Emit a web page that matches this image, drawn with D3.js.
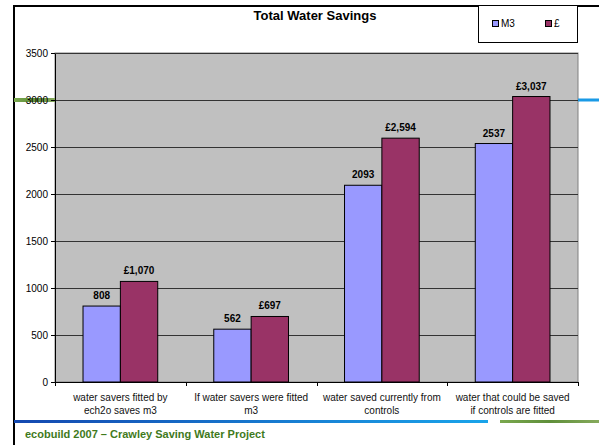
<!DOCTYPE html>
<html>
<head>
<meta charset="utf-8">
<title>Total Water Savings</title>
<script src="https://cdn.jsdelivr.net/npm/d3@7"></script>
<style>
body { margin: 0; background: #fff; }
svg text { font-family: Arial, "Liberation Sans", sans-serif; }
.axis path, .axis line { stroke: #000; shape-rendering: crispEdges; }
.axis text { font-size: 10px; fill: #000; }
.grid line { stroke: #333; shape-rendering: crispEdges; }
.grid path { display: none; }
.lbl { font-size: 10px; font-weight: bold; text-anchor: middle; fill: #000; }
</style>
</head>
<body>
<script>
// data
const categories = [
  ["water savers fitted by", "ech2o saves m3"],
  ["If water savers were fitted", "m3"],
  ["water saved currently from", "controls"],
  ["water that could be saved", "if controls are fitted"]
];
const seriesNames = ["M3", "£"];
const m3Values = [808, 562, 2093, 2537];
const poundValues = [1070, 697, 2594, 3037];
const poundLabels = ["£1,070", "£697", "£2,594", "£3,037"];
const yTicks = [0, 500, 1000, 1500, 2000, 2500, 3000, 3500];
const colors = ["#9999FF", "#993366"];

const W = 599, H = 445;
const plot = { left: 55, top: 53, right: 578, bottom: 382 };

const svg = d3.select("body").append("svg")
  .attr("width", W).attr("height", H);

// gradients for the slide decorations
const defs = svg.append("defs");
const gBlue = defs.append("linearGradient").attr("id", "blueBar");
gBlue.append("stop").attr("offset", "0%").attr("stop-color", "#1448b0");
gBlue.append("stop").attr("offset", "100%").attr("stop-color", "#1aa4ea");
const gGreen = defs.append("linearGradient").attr("id", "greenBar");
gGreen.append("stop").attr("offset", "0%").attr("stop-color", "#7aa84e");
gGreen.append("stop").attr("offset", "50%").attr("stop-color", "#5f8f3a");
gGreen.append("stop").attr("offset", "100%").attr("stop-color", "#86aa5c");

// chart frame (black top/left edge)
svg.append("line").attr("x1", 13).attr("x2", W).attr("y1", 6).attr("y2", 6)
  .attr("stroke", "#000").attr("stroke-width", 2);
svg.append("line").attr("x1", 14).attr("x2", 14).attr("y1", 5).attr("y2", H)
  .attr("stroke", "#000").attr("stroke-width", 2);

const x0 = d3.scaleBand()
  .domain(d3.range(categories.length))
  .range([plot.left, plot.right])
  .paddingInner(0).paddingOuter(0);
const x1 = d3.scaleBand()
  .domain(d3.range(seriesNames.length))
  .range([0, x0.bandwidth()])
  .paddingOuter(0.75).paddingInner(0);
const y = d3.scaleLinear().domain([0, 3500]).range([plot.bottom, plot.top]);

// plot background
svg.append("rect")
  .attr("x", plot.left).attr("y", plot.top)
  .attr("width", plot.right - plot.left).attr("height", plot.bottom - plot.top)
  .attr("fill", "#C0C0C0").attr("stroke", "#808080").attr("stroke-width", 1);

// decorations behind the 3000 line
svg.append("rect").attr("x", 14).attr("y", y(3000) - 2).attr("width", plot.left - 14).attr("height", 4)
  .attr("fill", "url(#greenBar)");
svg.append("rect").attr("x", plot.right).attr("y", y(3000) - 1.5).attr("width", W - plot.right).attr("height", 3)
  .attr("fill", "#1a9ae6");

// gridlines
svg.append("g").attr("class", "grid")
  .attr("transform", `translate(${plot.left},0)`)
  .call(d3.axisLeft(y).tickValues(yTicks.slice(1)).tickSize(-(plot.right - plot.left)).tickFormat(""));

// bars
const series = [m3Values, poundValues];
const groups = svg.append("g").selectAll("g")
  .data(categories.map((c, i) => i))
  .join("g")
  .attr("transform", i => `translate(${x0(i)},0)`);

groups.selectAll("rect")
  .data(i => series.map((s, k) => ({ k, v: s[i], i })))
  .join("rect")
  .attr("x", d => x1(d.k))
  .attr("y", d => y(d.v))
  .attr("width", x1.bandwidth())
  .attr("height", d => y(0) - y(d.v))
  .attr("fill", d => colors[d.k])
  .attr("stroke", "#000").attr("stroke-width", 1);

groups.selectAll("text.lbl")
  .data(i => series.map((s, k) => ({ k, v: s[i], i })))
  .join("text")
  .attr("class", "lbl")
  .attr("x", d => x1(d.k) + x1.bandwidth() / 2)
  .attr("y", d => y(d.v) - 7)
  .text(d => d.k === 0 ? d.v : poundLabels[d.i]);

// y axis
svg.append("g").attr("class", "axis")
  .attr("transform", `translate(${plot.left},0)`)
  .call(d3.axisLeft(y).tickValues(yTicks).tickFormat(d3.format("d")).tickSize(4).tickPadding(3).tickSizeOuter(0));

// x axis
const xTickScale = d3.scaleLinear().domain([0, categories.length]).range([plot.left, plot.right]);
svg.append("g").attr("class", "axis")
  .attr("transform", `translate(0,${plot.bottom})`)
  .call(d3.axisBottom(xTickScale).ticks(categories.length).tickSize(4).tickFormat("").tickSizeOuter(4));

// category labels
const catText = svg.append("g").selectAll("text")
  .data(categories)
  .join("text")
  .attr("text-anchor", "middle")
  .attr("font-size", 10)
  .attr("fill", "#111")
  .attr("x", (d, i) => x0(i) + x0.bandwidth() / 2)
  .attr("y", 401);
catText.selectAll("tspan")
  .data(d => d)
  .join("tspan")
  .attr("x", function() { return d3.select(this.parentNode).attr("x"); })
  .attr("dy", (d, j) => j === 0 ? 0 : 13)
  .text(d => d);

// title
svg.append("text")
  .attr("x", 315).attr("y", 20)
  .attr("text-anchor", "middle")
  .attr("font-size", 13).attr("font-weight", "bold")
  .text("Total Water Savings");

// legend
const lg = svg.append("g");
lg.append("rect").attr("x", 478.5).attr("y", 5.5).attr("width", 99).attr("height", 37)
  .attr("fill", "#fff").attr("stroke", "#000");
const legendX = [492, 545];
seriesNames.forEach((n, k) => {
  lg.append("rect").attr("x", legendX[k] + 0.5).attr("y", 20.5).attr("width", 6).attr("height", 6)
    .attr("fill", colors[k]).attr("stroke", "#000");
  lg.append("text").attr("x", legendX[k] + 9).attr("y", 27)
    .attr("font-size", 10).text(n);
});

// bottom slide decorations
svg.append("rect").attr("x", 14).attr("y", 420).attr("width", 474).attr("height", 3)
  .attr("fill", "url(#blueBar)");
svg.append("rect").attr("x", 500).attr("y", 420).attr("width", 99).attr("height", 3)
  .attr("fill", "url(#greenBar)");

svg.append("text")
  .attr("x", 25).attr("y", 438)
  .attr("font-size", 11).attr("font-weight", "bold")
  .attr("fill", "#3f7a1c")
  .text("ecobuild 2007 – Crawley Saving Water Project");
</script>
</body>
</html>
